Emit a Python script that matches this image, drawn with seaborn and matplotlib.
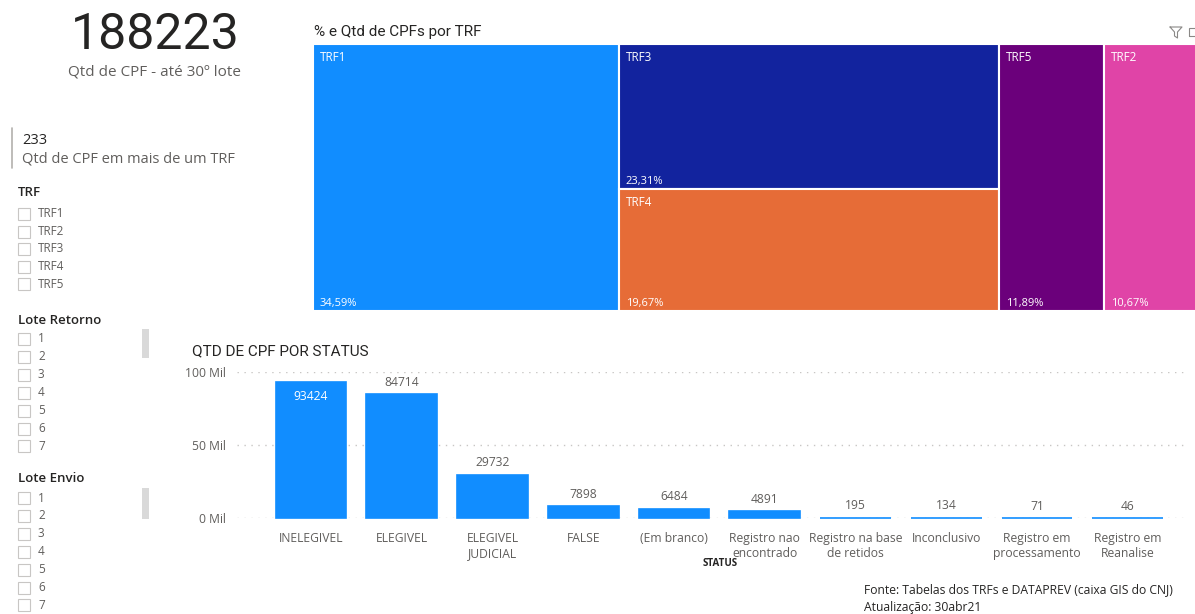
import numpy as np
import pandas as pd
import seaborn as sns
import matplotlib.pyplot as plt
from matplotlib.patches import Rectangle
from matplotlib.lines import Line2D
from matplotlib.ticker import FuncFormatter

status = ["INELEGIVEL", "ELEGIVEL", "ELEGIVEL\nJUDICIAL", "FALSE", "(Em branco)",
          "Registro nao\nencontrado", "Registro na base\nde retidos", "Inconclusivo",
          "Registro em\nprocessamento", "Registro em\nReanalise"]
qtd = [93424, 84714, 29732, 7898, 6484, 4891, 195, 134, 71, 46]

trf_names = ["TRF1", "TRF3", "TRF4", "TRF5", "TRF2"]
trf_pct = [34.59, 23.31, 19.67, 11.89, 10.67]
trf_colors = ["#118DFF", "#12239E", "#E66C37", "#6B007B", "#E044A7"]
trf_groups = [[0], [1, 2], [3], [4]]  # treemap columns

total_cpf = "188223"
multi_trf = "233"
slicer_trf = ["TRF1", "TRF2", "TRF3", "TRF4", "TRF5"]
slicer_lote = ["1", "2", "3", "4", "5", "6", "7"]

W, H = 1195, 614
sns.set_style("white")
plt.rcParams["font.family"] = ["Open Sans", "DejaVu Sans"]

fig = plt.figure(figsize=(W / 100, H / 100), dpi=100)


def box(x0, y0, w, h):
    return [x0 / W, 1 - (y0 + h) / H, w / W, h / H]


def txt(x, y, s, **kw):
    kw.setdefault("va", "center")
    fig.text(x / W, 1 - y / H, s, **kw)


dark = "#252423"
gray = "#605E5C"

# KPI cards
txt(155, 35, total_cpf, ha="center", fontsize=36, color=dark,
    family=["Roboto", "DejaVu Sans"])
txt(155, 72, "Qtd de CPF - até 30º lote", ha="center", fontsize=11, color=gray)
fig.add_artist(Line2D([12 / W, 12 / W], [1 - 128 / H, 1 - 168 / H], color="#B3B0AD", lw=1.2))
txt(22, 140, multi_trf, fontsize=10.5, color=dark)
txt(22, 159, "Qtd de CPF em mais de um TRF", fontsize=10.5, color=gray)


# slicers
def slicer(title, y_title, items, y0, step, scroll=None):
    txt(18, y_title, title, fontsize=9.5, color=dark, fontweight="semibold")
    for i, it in enumerate(items):
        y = y0 + i * step
        fig.add_artist(Rectangle((18 / W, 1 - (y + 6) / H), 12 / W, 12 / H,
                                 fill=False, ec="#C8C6C4", lw=0.8))
        txt(38, y, it, fontsize=8.5, color=gray)
    if scroll:
        fig.add_artist(Rectangle((142 / W, 1 - scroll[1] / H), 7 / W,
                                 (scroll[1] - scroll[0]) / H, fc="#D9D9D9", ec="none"))


slicer("TRF", 193, slicer_trf, 214, 17.5)
slicer("Lote Retorno", 320, slicer_lote, 339, 17.9, scroll=(329, 358))
slicer("Lote Envio", 479, slicer_lote, 498, 17.9, scroll=(488, 519))

# treemap
txt(314, 32, "% e Qtd de CPFs por TRF", fontsize=11, color=dark, family=["Roboto", "DejaVu Sans"])
ax_t = fig.add_axes(box(313, 44, 885, 267))
ax_t.set_xlim(0, sum(trf_pct))
ax_t.set_ylim(0, 1)
ax_t.axis("off")
left = 0
for grp in trf_groups:
    col_w = sum(trf_pct[i] for i in grp)
    top = 1.0
    for i in grp:
        h = trf_pct[i] / col_w
        ax_t.bar(left, h, width=col_w, bottom=top - h, align="edge",
                 color=trf_colors[i], edgecolor="white", linewidth=1.5)
        ax_t.annotate(trf_names[i], (left, top), xytext=(5, -10), textcoords="offset points",
                      color="white", fontsize=8.5, va="center")
        ax_t.annotate(f"{trf_pct[i]:.2f}%".replace(".", ","), (left, top - h),
                      xytext=(5, 5.5), textcoords="offset points",
                      color="white", fontsize=8, va="center")
        top -= h
    left += col_w

# funnel icon
fig.add_artist(Line2D(np.array([1170, 1182, 1177.5, 1177.5, 1174.5, 1174.5, 1170]) / W,
                      1 - np.array([27, 27, 32, 38, 36, 32, 27]) / H, color="#8A8886", lw=0.8))
fig.add_artist(Rectangle((1189 / W, 1 - 36 / H), 8 / W, 8 / H, fill=False, ec="#8A8886", lw=0.8))

# bar chart
txt(192, 351, "QTD DE CPF POR STATUS", fontsize=11, color=dark, family=["Roboto", "DejaVu Sans"])
ax = fig.add_axes(box(237, 372, 948, 146))
df = pd.DataFrame({"status": status, "qtd": qtd})
sns.barplot(data=df, x="status", y="qtd", color="#118DFF", saturation=1, width=0.78,
            edgecolor="#118DFF", linewidth=1.2, ax=ax)
for p in ax.patches:
    p.set_clip_on(False)
ax.set_ylim(0, 100000)
ax.set_xlim(-0.816, 9.63)
ax.set_yticks([0, 50000, 100000])
ax.yaxis.set_major_formatter(FuncFormatter(lambda v, p: f"{int(v / 1000)} Mil"))
ax.yaxis.grid(True, linestyle=(0, (1, 4)), color="#C8C6C4", lw=1)
ax.set_axisbelow(True)
for s in ax.spines.values():
    s.set_visible(False)
ax.tick_params(length=0, labelsize=8.7, labelcolor=gray)
ax.tick_params(axis="x", pad=10)
ax.tick_params(axis="y", pad=8)
ax.set_xlabel("")
ax.set_ylabel("")
for i, v in enumerate(qtd):
    if v > 90000:
        ax.annotate(str(v), (i, v), xytext=(0, -11), textcoords="offset points",
                    ha="center", va="center", color="white", fontsize=8.7)
    else:
        ax.annotate(str(v), (i, v), xytext=(0, 8.5), textcoords="offset points",
                    ha="center", va="center", color=gray, fontsize=8.7, clip_on=False)
txt(720, 564, "STATUS", ha="center", fontsize=7, color=dark, fontweight="bold")

# footer
txt(864, 590, "Fonte: Tabelas dos TRFs e DATAPREV (caixa GIS do CNJ)", fontsize=8.7, color=dark)
txt(864, 607, "Atualização: 30abr21", fontsize=8.7, color=dark)

fig.savefig("out.png", dpi=100)
